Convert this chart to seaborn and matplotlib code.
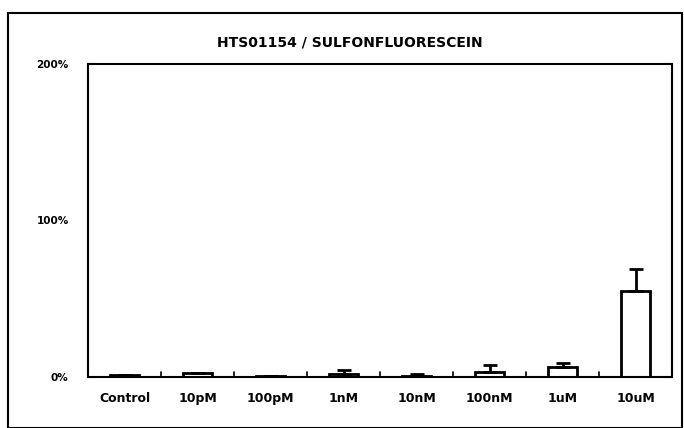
import matplotlib
matplotlib.use('Agg')
import matplotlib.pyplot as plt
import seaborn as sns
import pandas as pd
from matplotlib.patches import Rectangle

# values (percent)
doses = ['Control', '10pM', '100pM', '1nM', '10nM', '100nM', '1uM', '10uM']
means = [1.0, 2.5, 0.8, 2.0, 0.6, 3.5, 6.3, 55.0]
upper = [1.0, 2.8, 0.8, 4.5, 2.1, 7.7, 8.8, 69.0]
yticks = [0, 100, 200]
ytick_labels = ['0%', '100%', '200%']

data = pd.DataFrame({'dose': doses, 'pct': means})
errs = [u - m for u, m in zip(upper, means)]

sns.set_style('white')
plt.rcParams['font.family'] = ['DejaVu Sans']
plt.rcParams['text.color'] = 'black'
plt.rcParams['xtick.color'] = 'black'
plt.rcParams['ytick.color'] = 'black'

fig = plt.figure(figsize=(6.84, 4.28), dpi=100)
ax = fig.add_axes([0.1287, 0.1192, 0.8538, 0.7313])

sns.barplot(data=data, x='dose', y='pct', color='white', edgecolor='black',
            linewidth=2, width=0.41, errorbar=None, ax=ax)
ax.errorbar(range(len(doses)), means, yerr=[[0] * len(errs), errs], fmt='none',
            ecolor='black', elinewidth=2, capsize=5, capthick=2)

ax.set_ylim(0, 200)
ax.set_xlim(-0.5, len(doses) - 0.5)
ax.set_yticks(yticks)
ax.set_yticklabels(ytick_labels, fontsize=7.5, fontweight='bold')
ax.tick_params(axis='y', length=0, pad=14)
ax.tick_params(axis='x', length=0, pad=11, labelsize=9)
for lab in ax.get_xticklabels():
    lab.set_fontweight('bold')
# small marks between categories along the bottom
for b in range(1, len(doses)):
    ax.plot([b - 0.5, b - 0.5], [0, 3], color='black', lw=1.2)
ax.set_xlabel('')
ax.set_ylabel('')
for s in ax.spines.values():
    s.set_linewidth(1.5)
    s.set_color('black')

fig.text(0.512, 0.90, 'HTS01154 / SULFONFLUORESCEIN', ha='center', va='center',
         fontsize=10, fontweight='bold')
fig.patches.append(Rectangle((0.012, 0.0), 0.985, 0.97, transform=fig.transFigure,
                             fill=False, edgecolor='black', linewidth=1.5))

fig.savefig('out.png', dpi=100)
